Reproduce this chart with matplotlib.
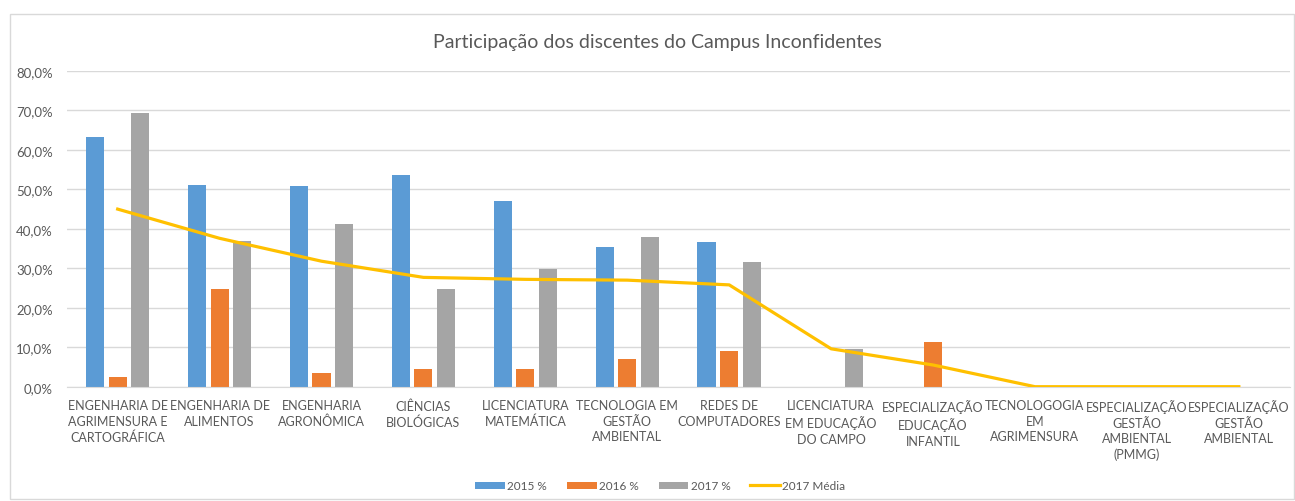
import matplotlib
matplotlib.use("Agg")
import matplotlib.pyplot as plt
import numpy as np
from matplotlib.ticker import FuncFormatter
from matplotlib.patches import Rectangle

categories = [
    "ENGENHARIA DE\nAGRIMENSURA E\nCARTOGRÁFICA",
    "ENGENHARIA DE\nALIMENTOS",
    "ENGENHARIA\nAGRONÔMICA",
    "CIÊNCIAS\nBIOLÓGICAS",
    "LICENCIATURA\nMATEMÁTICA",
    "TECNOLOGIA EM\nGESTÃO\nAMBIENTAL",
    "REDES DE\nCOMPUTADORES",
    "LICENCIATURA\nEM EDUCAÇÃO\nDO CAMPO",
    "ESPECIALIZAÇÃO\nEDUCAÇÃO\nINFANTIL",
    "TECNOLOGOGIA\nEM\nAGRIMENSURA",
    "ESPECIALIZAÇÃO\nGESTÃO\nAMBIENTAL\n(PMMG)",
    "ESPECIALIZAÇÃO\nGESTÃO\nAMBIENTAL",
]
v2015 = [63.2, 51.2, 50.9, 53.7, 47.0, 35.5, 36.7, 0, 0, 0, 0, 0]
v2016 = [2.4, 24.8, 3.5, 4.6, 4.6, 7.0, 9.0, 0, 11.2, 0, 0, 0]
v2017 = [69.4, 36.8, 41.2, 24.7, 29.7, 37.9, 31.6, 9.6, 0, 0, 0, 0]
media2017 = [45.0, 37.6, 31.8, 27.7, 27.2, 27.0, 25.8, 9.6, 5.5, 0, 0, 0]

plt.rcParams['font.family'] = ['Lato', 'DejaVu Sans']
txt = '#595959'

fig = plt.figure(figsize=(12.95, 5.02), dpi=100)
fig.patches.append(Rectangle((0.008, 0.003), 0.991, 0.968, transform=fig.transFigure,
                             fill=False, edgecolor='#d9d9d9', linewidth=1))
ax = fig.add_axes([0.0515, 0.2277, 0.9445, 0.6289])

x = np.arange(len(categories))
w = 0.177
off = 0.223
b1 = ax.bar(x - off, v2015, w, color='#5b9bd5', label='2015 %', zorder=2)
b2 = ax.bar(x, v2016, w, color='#ed7d31', label='2016 %', zorder=2)
b3 = ax.bar(x + off, v2017, w, color='#a5a5a5', label='2017 %', zorder=2)
ln, = ax.plot(x, media2017, color='#ffc000', linewidth=2.3, label='2017 Média', zorder=3)

ax.set_xlim(-0.5, len(categories) - 0.5)
ax.set_ylim(0, 80)
ax.set_yticks(np.arange(0, 81, 10))
ax.yaxis.set_major_formatter(FuncFormatter(lambda v, p: f"{v:.1f}".replace('.', ',') + '%'))
ax.grid(axis='y', color='#d9d9d9', linewidth=1, zorder=0)
ax.set_axisbelow(True)
for s in ['top', 'right', 'left']:
    ax.spines[s].set_visible(False)
ax.spines['bottom'].set_color('#d9d9d9')
ax.tick_params(axis='both', length=0, colors=txt, labelsize=9)
ax.tick_params(axis='y', pad=10, labelsize=9.5)
ax.set_xticks(x)
ax.set_xticklabels(categories, linespacing=1.35)
ax.tick_params(axis='x', pad=9)

fig.text(0.508, 0.916, 'Participação dos discentes do Campus Inconfidentes',
         ha='center', va='center', fontsize=14, color=txt)

leg = fig.legend(handles=[b1, b2, b3, ln], labels=['2015 %', '2016 %', '2017 %', '2017 Média'],
                 loc='center', bbox_to_anchor=(0.51, 0.03), ncol=4, frameon=False,
                 fontsize=8.5, handlelength=2.5, handleheight=0.6, columnspacing=1.7,
                 handletextpad=0.2)
for t in leg.get_texts():
    t.set_color(txt)

fig.savefig('out.png', dpi=100)
